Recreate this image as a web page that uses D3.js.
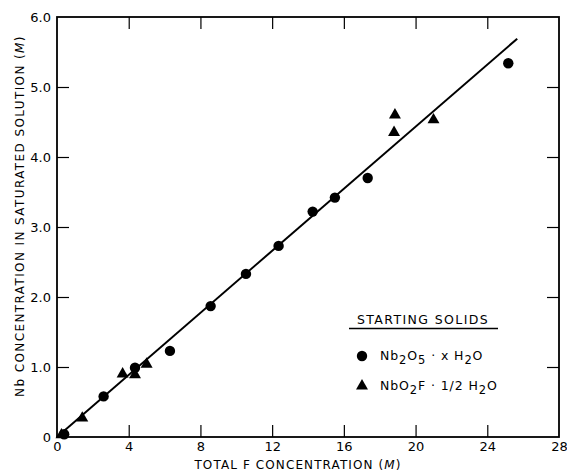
<!DOCTYPE html>
<html>
<head>
<meta charset="utf-8">
<script src="https://cdn.jsdelivr.net/npm/d3@7"></script>
<style>
  html, body { margin: 0; padding: 0; background: #fff; }
  svg { display: block; }
  text { font-family: "DejaVu Sans", sans-serif; fill: #000; }
</style>
</head>
<body>
<svg id="chart" width="567" height="472"></svg>
<script>
// ---- data ----
const xTicks = [0, 4, 8, 12, 16, 20, 24, 28];
const xTickLabels = ["0", "4", "8", "12", "16", "20", "24", "28"];
const yTicks = [0, 1, 2, 3, 4, 5, 6];
const yTickLabels = ["0", "1.0", "2.0", "3.0", "4.0", "5.0", "6.0"];

// Nb2O5 · x H2O (circles)
const circleX = [0.4, 2.6, 4.35, 6.3, 8.57, 10.54, 12.36, 14.26, 15.5, 17.33, 25.17];
const circleY = [0.04, 0.58, 0.99, 1.23, 1.87, 2.33, 2.73, 3.22, 3.42, 3.70, 5.34];

// NbO2F · 1/2 H2O (triangles)
const triX = [0.25, 1.41, 3.66, 4.35, 5.0, 18.8, 18.85, 21.0];
const triY = [0.03, 0.27, 0.90, 0.89, 1.04, 4.35, 4.60, 4.53];

// fitted line
const lineX = [0, 25.67];
const lineY = [0, 5.69];

// ---- layout ----
const svg = d3.select("#chart");
const L = 57, R = 559, T = 17, B = 437;
const x = d3.scaleLinear().domain([0, 28]).range([L, R]);
const y = d3.scaleLinear().domain([0, 6]).range([B, T]);

const g = svg.append("g");

// frame
g.append("rect").attr("x", L).attr("y", T).attr("width", R - L).attr("height", B - T)
  .attr("fill", "none").attr("stroke", "#000").attr("stroke-width", 1.8);

const tickLen = 12;
const axBottom = d3.axisBottom(x).tickValues(xTicks).tickSize(-tickLen).tickPadding(5)
  .tickFormat((d, i) => xTickLabels[i]);
const bAx = g.append("g").attr("transform", `translate(0,${B})`).call(axBottom);
const axTop = d3.axisTop(x).tickValues(xTicks.slice(1, -1)).tickSize(-tickLen).tickFormat("");
const tAx = g.append("g").attr("transform", `translate(0,${T})`).call(axTop);
const axLeft = d3.axisLeft(y).tickValues(yTicks).tickSize(-tickLen).tickPadding(6)
  .tickFormat((d, i) => yTickLabels[i]);
const lAx = g.append("g").attr("transform", `translate(${L},0)`).call(axLeft);
const axRight = d3.axisRight(y).tickValues(yTicks.slice(1, -1)).tickSize(-tickLen).tickFormat("");
const rAx = g.append("g").attr("transform", `translate(${R},0)`).call(axRight);

[bAx, tAx, lAx, rAx].forEach(a => {
  a.select(".domain").remove();
  a.selectAll(".tick line").attr("stroke", "#000").attr("stroke-width", 1.2);
  a.selectAll(".tick text").attr("font-size", 13).attr("font-family", "DejaVu Sans, sans-serif").attr("fill", "#000");
});
bAx.selectAll(".tick").filter(d => d === 0 || d === 28).select("line").remove();
lAx.selectAll(".tick").filter(d => d === 0 || d === 6).select("line").remove();
bAx.selectAll(".tick text").attr("dy", "0.71em");
lAx.selectAll(".tick text").attr("dy", "0.36em");

// fitted line
const lineData = lineX.map((d, i) => [d, lineY[i]]);
g.append("path").datum(lineData)
  .attr("d", d3.line().x(d => x(d[0])).y(d => y(d[1])))
  .attr("stroke", "#000").attr("stroke-width", 2).attr("fill", "none");

// circles
g.selectAll("circle.pt").data(circleX.map((d, i) => [d, circleY[i]])).enter()
  .append("circle").attr("class", "pt")
  .attr("cx", d => x(d[0])).attr("cy", d => y(d[1])).attr("r", 5.2).attr("fill", "#000");

// triangles
const triSym = d3.symbol().type(d3.symbolTriangle).size(62);
g.selectAll("path.tri").data(triX.map((d, i) => [d, triY[i]])).enter()
  .append("path").attr("class", "tri")
  .attr("transform", d => `translate(${x(d[0])},${y(d[1])})`)
  .attr("d", triSym).attr("fill", "#000");

// axis titles
const xt = svg.append("text").attr("x", 298).attr("y", 469).attr("text-anchor", "middle")
  .attr("font-size", 12).attr("letter-spacing", 1.1);
xt.append("tspan").text("TOTAL  F  CONCENTRATION (");
xt.append("tspan").attr("font-style", "italic").text("M");
xt.append("tspan").text(")");

const yt = svg.append("text").attr("transform", "translate(24,216) rotate(-90)")
  .attr("text-anchor", "middle").attr("font-size", 12).attr("letter-spacing", 1.4);
yt.append("tspan").text("Nb CONCENTRATION IN SATURATED SOLUTION (");
yt.append("tspan").attr("font-style", "italic").text("M");
yt.append("tspan").text(")");

// legend
const lg = svg.append("g");
lg.append("text").attr("x", 423).attr("y", 324).attr("text-anchor", "middle")
  .attr("font-size", 12.5).attr("letter-spacing", 1.4).text("STARTING  SOLIDS");
lg.append("line").attr("x1", 349).attr("x2", 498).attr("y1", 328.5).attr("y2", 328.5)
  .attr("stroke", "#000").attr("stroke-width", 1.4);
lg.append("circle").attr("cx", 362).attr("cy", 356).attr("r", 5.2).attr("fill", "#000");
lg.append("path").attr("transform", "translate(362,386)").attr("d", triSym).attr("fill", "#000");

function chem(parts, yy) {
  const tx = lg.append("text").attr("x", 380).attr("y", yy).attr("font-size", 12.5).attr("letter-spacing", 0.9);
  parts.forEach(p => {
    const s = tx.append("tspan").text(p[0]);
    if (p[1]) s.attr("baseline-shift", "-30%").attr("font-size", 11.5);
  });
}
chem([["Nb"], ["2", 1], ["O"], ["5", 1], [" · x H"], ["2", 1], ["O"]], 360);
chem([["NbO"], ["2", 1], ["F · 1/2 H"], ["2", 1], ["O"]], 390);
</script>
</body>
</html>
